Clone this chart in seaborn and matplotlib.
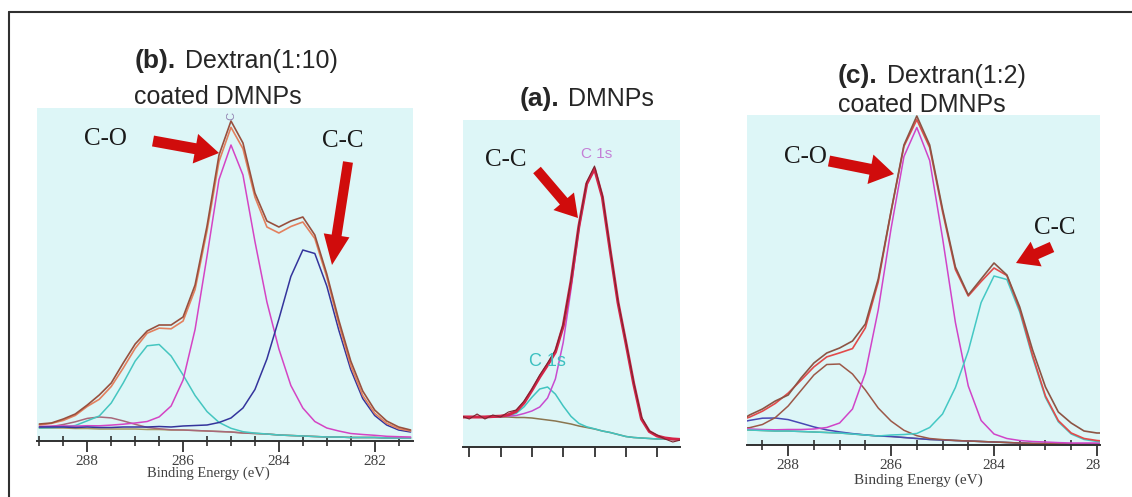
import numpy as np
import matplotlib
matplotlib.use("Agg")
import matplotlib.pyplot as plt
import seaborn as sns
from matplotlib.lines import Line2D
from matplotlib.patches import FancyArrowPatch, Rectangle, ArrowStyle
from matplotlib.transforms import IdentityTransform
from matplotlib.ticker import MultipleLocator

# ---------------- data (intensity in arbitrary units) ----------------
# panel (b): Dextran(1:10) coated DMNPs
be_b = [289.0, 288.75, 288.5, 288.25, 288.0, 287.75, 287.5, 287.25, 287.0, 286.75, 286.5,
        286.25, 286.0, 285.75, 285.5, 285.25, 285.0, 284.75, 284.5, 284.25, 284.0, 283.75,
        283.5, 283.25, 283.0, 282.75, 282.5, 282.25, 282.0, 281.75, 281.5, 281.25]
base_b = [13, 13, 13, 12.5, 12.5, 12, 12, 12, 12, 11.5, 11.5, 11, 11, 10.5, 10, 9.5, 9, 8,
          7.5, 7, 6, 5.5, 5, 4.5, 4, 4, 3.5, 3.5, 3.5, 3, 3, 3]
co_b = [1.6, 1.9, 2.1, 2.4, 2.8, 3.2, 3.9, 4.8, 6, 8, 12.6, 24, 50, 101, 175, 252, 287, 258,
        192, 132, 86, 50, 28, 15, 9, 6, 4, 3, 2.2, 1.7, 1.3, 1.0]
coh_b = [0, 0.3, 1, 3, 7.7, 13, 26, 46, 68, 83.7, 85, 74, 55, 35, 19.4, 9.1, 3.7, 1.3, 0.4,
         0, 0, 0, 0, 0, 0, 0, 0, 0, 0, 0, 0, 0]
cc_b = [1, 1, 1, 1, 1.5, 1.5, 1.5, 2, 2, 2.5, 3, 3, 4, 5, 6, 9, 14, 25, 44, 75, 116, 159,
        186, 183, 151, 107, 68, 39, 22, 13, 8, 6]
oc_b = [0.5, 1.4, 3.5, 6.7, 10.1, 12, 11.1, 8.1, 4.7, 2.1, 0.75, 0.2, 0, 0, 0, 0, 0, 0, 0,
        0, 0, 0, 0, 0, 0, 0, 0, 0, 0, 0, 0, 0]
raw_b = [17, 18, 22, 27, 36, 46, 58, 78, 97, 110, 116, 116, 124, 156, 215, 286, 320, 298,
         248, 220, 214, 220, 224, 206, 167, 121, 80, 50, 31, 20, 14, 11]

# panel (a): DMNPs
be_a = [289.25, 289.0, 288.75, 288.5, 288.25, 288.0, 287.75, 287.5, 287.25, 287.0, 286.75,
        286.5, 286.25, 286.0, 285.75, 285.5, 285.25, 285.0, 284.75, 284.5, 284.25, 284.0,
        283.75, 283.5, 283.25, 283.0, 282.75, 282.5, 282.25]
base_a = [30, 30, 30, 30, 30, 30, 30, 29.5, 29.5, 29, 28, 27, 26, 24.5, 23, 21, 19.5, 18, 16,
          14.5, 12.5, 10.5, 9.5, 9, 8.5, 8, 8, 7.5, 7.5]
cc_a = [0, 0, 0, 0, 0.5, 0.5, 1, 2, 4, 7, 12, 22, 42, 80, 135, 197, 243, 260, 234, 182, 132,
        94, 54, 19, 7, 3, 1, 0.5, 0]
side_a = [0, 0, 0, 0, 0, 0.3, 1.2, 4.2, 10.7, 20.7, 30, 33, 26.9, 16.5, 7.6, 2.6, 0.7, 0.2,
          0, 0, 0, 0, 0, 0, 0, 0, 0, 0, 0]
raw_a = [31, 28, 33, 28, 32, 30, 35, 37, 46, 58, 72, 84, 97, 123, 167, 222, 265, 281, 252,
         198, 146, 106, 65, 30, 16, 12, 8, 5, 7]

# panel (c): Dextran(1:2) coated DMNPs
be_c = [289.0, 288.75, 288.5, 288.25, 288.0, 287.75, 287.5, 287.25, 287.0, 286.75, 286.5,
        286.25, 286.0, 285.75, 285.5, 285.25, 285.0, 284.75, 284.5, 284.25, 284.0, 283.75,
        283.5, 283.25, 283.0, 282.75, 282.5, 282.25, 282.0, 281.75]
base_c = [15.5, 15, 14.5, 14, 14, 13.5, 13, 12.5, 12, 11, 10, 9, 8.5, 7.5, 6.5, 5.5, 5, 4.5,
          4, 3.5, 3, 2.5, 2, 1.5, 1.5, 1.2, 1, 1, 1, 1]
co_c = [1, 1, 1, 1.2, 1.5, 2, 3, 5, 10, 25, 62, 126, 208, 281, 311, 279, 202, 118, 55, 21, 8,
        4, 2.5, 2, 1.5, 1.2, 1, 1, 1, 1]
cc_c = [0, 0, 0, 0, 0, 0, 0, 0, 0, 0, 0, 0, 1.5, 3, 5, 12, 26, 53, 90, 139, 166, 163, 131,
        86, 46, 22, 10, 4.5, 2.5, 1.5]
oc_c = [0.8, 2.3, 6, 13.4, 25, 41, 57, 68, 69, 60, 45, 28, 15.4, 7.2, 2.8, 1, 0.4, 0, 0, 0,
        0, 0, 0, 0, 0, 0, 0, 0, 0, 0]
coo_c = [6.3, 9.6, 12.3, 13, 11.4, 8.3, 5.1, 2.6, 1.1, 0.4, 0.1, 0, 0, 0, 0, 0, 0, 0, 0, 0,
         0, 0, 0, 0, 0, 0, 0, 0, 0, 0]
raw_c = [22, 30, 36, 44, 50, 67, 82, 92, 97, 104, 121, 166, 234, 300, 329, 300, 236, 178, 150,
         166, 182, 170, 138, 95, 58, 33, 22, 14, 12, 12]

# ---------------- figure ----------------
sns.set_style("white")
plt.rcParams["font.family"] = ["Liberation Sans", "DejaVu Sans"]

W, H = 1132, 497
fig = plt.figure(figsize=(W / 100, H / 100), dpi=100)
BG = "#ddf6f7"
SERIF = ["Liberation Serif", "DejaVu Serif"]


def px_axes(l, t, r, b):
    return fig.add_axes([l / W, 1 - b / H, (r - l) / W, (b - t) / H])


def draw_spectrum(ax, be, base, comps, raw, fit_col, raw_col, fit_lw, raw_lw, base_col):
    total = np.array(base, dtype=float)
    sns.lineplot(x=be, y=base, ax=ax, color=base_col, lw=1.1)
    for vals, col in comps:
        sns.lineplot(x=be, y=np.array(base) + np.array(vals), ax=ax, color=col, lw=1.1)
        total = total + np.array(vals)
    sns.lineplot(x=be, y=total, ax=ax, color=fit_col, lw=fit_lw)
    sns.lineplot(x=be, y=raw, ax=ax, color=raw_col, lw=raw_lw)


def style_axes(ax, xlim, ylim):
    ax.set_facecolor(BG)
    ax.set_xlim(*xlim)
    ax.set_ylim(*ylim)
    sns.despine(ax=ax, left=True, top=True, right=True)
    ax.spines["bottom"].set_color("#303030")
    ax.spines["bottom"].set_linewidth(1.4)
    ax.set_yticks([])
    ax.set_xlabel("")
    ax.set_ylabel("")


# panel (b)
ax_b = px_axes(37, 108, 413, 441)
draw_spectrum(ax_b, be_b, base_b,
              [(oc_b, "#a8687a"), (coh_b, "#45c6c0"), (co_b, "#d444c4"), (cc_b, "#34349c")],
              raw_b, "#e3805e", "#98503e", 1.2, 1.2, "#a89a62")
style_axes(ax_b, (289.05, 281.2), (0, 333))

# panel (a)
ax_a = px_axes(463, 120, 680, 447)
draw_spectrum(ax_a, be_a, base_a, [(side_a, "#40c4c0"), (cc_a, "#c84cd0")],
              raw_a, "#d42448", "#7a2630", 2.2, 0.8, "#8a7650")
style_axes(ax_a, (289.2, 282.27), (0, 327))

# panel (c)
ax_c = px_axes(747, 115, 1100, 445)
draw_spectrum(ax_c, be_c, base_c,
              [(coo_c, "#4848b4"), (oc_c, "#9c5848"), (co_c, "#d044c8"), (cc_c, "#44c8c4")],
              raw_c, "#e24a4a", "#8c5444", 1.2, 1.2, "#8c8a64")
style_axes(ax_c, (288.8, 281.94), (0, 330))

# ticks
for ax in (ax_b, ax_c):
    ax.set_xticks([288, 286, 284, 282])
    ax.set_xticklabels(["288", "286", "284", "282"])
    ax.xaxis.set_minor_locator(MultipleLocator(0.5))
    ax.tick_params(axis="x", which="major", bottom=True, direction="out", length=8, width=1.3,
                   color="#303030", pad=2, labelsize=11, labelcolor="#404040")
    ax.tick_params(axis="x", which="minor", bottom=True, direction="inout", length=7,
                   width=1.2, color="#303030")
    for lbl in ax.get_xticklabels():
        lbl.set_fontfamily(SERIF)
ax_a.set_xticks([289, 288, 287, 286, 285, 284, 283])
ax_a.set_xticklabels([])
ax_a.tick_params(axis="x", which="major", bottom=True, direction="out", length=7, width=1.3,
                 color="#303030")

# the right-most label of panel (c) is cut by the panel edge
clip = Rectangle((0, 0), 1100 / W, 1, transform=fig.transFigure)
ax_c.xaxis.get_major_ticks()[3].label1.set_clip_path(clip)


def ftext(x, y, s, **kw):
    fig.text(x / W, 1 - y / H, s, **kw)


ftext(208, 473, "Binding Energy (eV)", ha="center", va="center", fontsize=10.5,
      color="#404040", family=SERIF)
ftext(918, 480, "Binding Energy (eV)", ha="center", va="center", fontsize=11,
      color="#404040", family=SERIF)

# titles
ftext(135, 68, "(b).", fontsize=19, fontweight="bold", va="baseline")
ftext(185, 68, "Dextran(1:10)", fontsize=18, va="baseline")
ftext(134, 104, "coated DMNPs", fontsize=18, va="baseline")
ftext(520, 106, "(a).", fontsize=19, fontweight="bold", va="baseline")
ftext(568, 106, "DMNPs", fontsize=18, va="baseline")
ftext(838, 83, "(c).", fontsize=19, fontweight="bold", va="baseline")
ftext(887, 83, "Dextran(1:2)", fontsize=18, va="baseline")
ftext(838, 112, "coated DMNPs", fontsize=18, va="baseline")

# peak labels
for x, y, s in [(105, 139, "C-O"), (343, 141, "C-C"), (506, 160, "C-C"),
                (805, 157, "C-O"), (1055, 228, "C-C")]:
    ftext(x, y, s, ha="center", va="center", fontsize=18, family=SERIF, color="#1a1a1a")

ftext(581, 158, "C 1s", fontsize=11, color="#c47fd6", va="baseline")
ftext(529, 366, "C 1s", fontsize=13, color="#3cc0c0", va="baseline")
ftext(231, 116, "C", fontsize=8, color="#9080b0", rotation=90, ha="center", va="center")

# red arrows (figure pixels, y measured from the top)
RED = "#d00c0c"
for tail, tip, tw, hw, hl in [((153, 141), (219, 153), 11, 30, 24),
                               ((348, 162), (332, 265), 10, 26, 30),
                               ((537, 170), (578, 218), 10, 27, 22),
                               ((829, 161), (894, 174), 11, 30, 24),
                               ((1052, 247), (1016, 263), 11, 27, 22)]:
    arr = FancyArrowPatch(posA=(tail[0], H - tail[1]), posB=(tip[0], H - tip[1]),
                          arrowstyle=ArrowStyle.Simple(head_length=hl, head_width=hw,
                                                       tail_width=tw),
                          mutation_scale=0.72, shrinkA=0, shrinkB=0,
                          transform=IdentityTransform(), color=RED, lw=0)
    fig.add_artist(arr)

# outer frame (top and left edges)
fig.add_artist(Line2D([9 / W, 9 / W], [0, 1 - 12 / H], color="#303030", lw=1.5))
fig.add_artist(Line2D([9 / W, 1], [1 - 12 / H, 1 - 12 / H], color="#303030", lw=1.5))

fig.savefig("out.png", dpi=100)
